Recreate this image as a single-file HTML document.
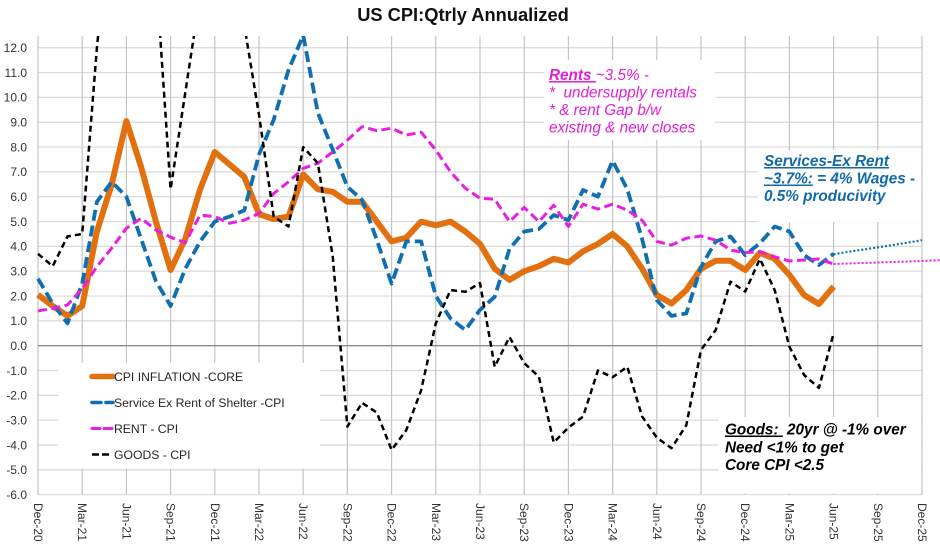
<!DOCTYPE html>
<html lang="en">
<head>
<meta charset="utf-8">
<title>US CPI: Qtrly Annualized</title>
<style>
html,body{margin:0;padding:0;background:#fff;width:940px;height:551px;overflow:hidden}
svg{display:block;font-family:"Liberation Sans",sans-serif}
</style>
</head>
<body>
<svg id="chart" xmlns="http://www.w3.org/2000/svg" width="940" height="551" viewBox="0 0 940 551">
  <text x="463" y="21" text-anchor="middle" font-size="18.3" font-weight="bold" fill="#111">US CPI:Qtrly Annualized</text>
  <defs><clipPath id="plot-clip"><rect x="0" y="36" width="940" height="470"/></clipPath></defs>
  <g id="grid"></g>
  <g id="boxes">
    <rect x="544" y="60" width="171" height="80" fill="#fff"/>
    <rect x="758" y="150" width="163" height="72" fill="#fff"/>
    <rect x="719" y="417" width="202" height="76.5" fill="#fff"/>
    <rect x="58" y="363" width="262" height="105.5" fill="#fff"/>
  </g>
  <g id="axes"></g>
  <g id="series" clip-path="url(#plot-clip)"></g>
  <g id="projections"></g>

  <g font-size="12.2" fill="#262626">
    <line x1="92" y1="376.5" x2="113" y2="376.5" stroke="#E2700F" stroke-width="5.5" stroke-linecap="round"/>
    <text x="114" y="381">CPI INFLATION -CORE</text>
    <line x1="92" y1="402.5" x2="113" y2="402.5" stroke="#0F6FB0" stroke-width="3.6" stroke-dasharray="9 5" stroke-linecap="round"/>
    <text x="114" y="407">Service Ex Rent of Shelter -CPI</text>
    <line x1="92" y1="428.5" x2="113" y2="428.5" stroke="#E81FE0" stroke-width="3" stroke-dasharray="8 4" stroke-linecap="round"/>
    <text x="114" y="433">RENT - CPI</text>
    <line x1="92" y1="454.5" x2="110" y2="454.5" stroke="#000" stroke-width="2.5" stroke-dasharray="7 3"/>
    <text x="114" y="459">GOODS - CPI</text>
  </g>

  <g font-size="15.3" font-style="italic" fill="#E01FD8">
    <text x="549" y="80"><tspan font-weight="bold" text-decoration="underline">Rents </tspan>~3.5% -</text>
    <text x="549" y="97.7">*&#160; undersupply rentals</text>
    <text x="549" y="115">* &amp; rent Gap b/w</text>
    <text x="549" y="132.7">existing &amp; new closes</text>
  </g>
  <g font-size="15.3" font-style="italic" font-weight="bold" fill="#1269A8">
    <text x="764" y="166" text-decoration="underline">Services-Ex Rent</text>
    <text x="764" y="183.5"><tspan text-decoration="underline">~3.7%:</tspan> = 4% Wages -</text>
    <text x="764" y="201">0.5% producivity</text>
  </g>
  <g font-size="15.3" font-style="italic" font-weight="bold" fill="#000">
    <text x="725" y="434.5"><tspan text-decoration="underline">Goods:&#160;</tspan> 20yr @ -1% over</text>
    <text x="725" y="452.5">Need &lt;1% to get</text>
    <text x="725" y="470">Core CPI &lt;2.5</text>
  </g>
</svg>
<script>
const quarterLabels = ["Dec-20","Mar-21","Jun-21","Sep-21","Dec-21","Mar-22","Jun-22","Sep-22","Dec-22","Mar-23","Jun-23","Sep-23","Dec-23","Mar-24","Jun-24","Sep-24","Dec-24","Mar-25","Jun-25","Sep-25","Dec-25"];
const yTickValues = [12,11,10,9,8,7,6,5,4,3,2,1,0,-1,-2,-3,-4,-5,-6];
const coreCpi = [2.05,1.6,1.2,1.6,4.6,6.5,9.05,7.2,5.0,3.05,4.3,6.3,7.8,7.3,6.8,5.3,5.1,5.2,6.9,6.3,6.2,5.8,5.8,5.0,4.2,4.35,5.0,4.85,5.0,4.6,4.1,3.1,2.65,3.0,3.2,3.5,3.35,3.8,4.1,4.5,4.0,3.1,2.04,1.7,2.24,3.1,3.42,3.42,3.05,3.74,3.5,2.85,2.04,1.68,2.38];
const serviceExRent = [2.7,1.7,0.9,2.5,5.8,6.6,6.0,4.3,2.6,1.6,3.1,4.2,5.0,5.2,5.45,7.7,9.1,11.1,12.5,9.37,7.9,6.4,5.87,4.25,2.5,4.2,4.2,2.0,1.1,0.63,1.44,1.97,3.9,4.6,4.7,5.26,5.06,6.27,6.0,7.45,6.3,4.3,1.84,1.2,1.3,3.17,4.2,4.4,3.65,4.13,4.8,4.6,3.65,3.25,3.7];
const rentCpi = [1.4,1.5,1.64,2.3,3.18,3.93,4.73,5.13,4.66,4.37,4.15,5.26,5.2,4.93,5.06,5.33,6.13,6.6,7.14,7.35,7.8,8.28,8.82,8.66,8.76,8.48,8.6,7.88,7.0,6.34,5.94,5.9,5.0,5.57,5.0,5.66,4.8,5.7,5.5,5.7,5.46,5.05,4.2,4.05,4.33,4.42,4.25,3.85,3.75,3.79,3.58,3.41,3.45,3.49,3.29];
const goodsCpi = [3.7,3.2,4.4,4.5,12.0,18,22,20,15,6.3,10.2,14.1,16,18,12.9,9.3,5.2,4.8,8.0,7.35,3.6,-3.26,-2.3,-2.7,-4.2,-3.4,-1.8,0.9,2.24,2.17,2.52,-0.85,0.35,-0.7,-1.25,-3.9,-3.3,-2.85,-1.0,-1.27,-0.85,-2.85,-3.7,-4.13,-3.2,-0.17,0.63,2.58,2.18,3.5,2.24,-0.04,-1.18,-1.7,0.5];
const serviceProjection = [3.68,3.78,3.87,3.96,4.05,4.15,4.25];
const rentProjection = [3.29,3.31,3.33,3.35,3.37,3.39,3.41,3.44,3.46];

const NS = "http://www.w3.org/2000/svg";
const xScale = m => 38 + (922 - 38) / 60 * m;
const yScale = v => 345.7 - 24.83 * v;
const projectionStart = 54;
const monthsPerQuarter = 3;

function make(tag, attrs, parent) {
  const el = document.createElementNS(NS, tag);
  for (const k in attrs) el.setAttribute(k, attrs[k]);
  parent.appendChild(el);
  return el;
}
function pointsFor(values, start) {
  return values.map((v, i) => xScale(start + i).toFixed(1) + "," + yScale(v).toFixed(1)).join(" ");
}

const grid = document.getElementById("grid");
const axes = document.getElementById("axes");
const plotTop = 36;
const plotBottom = yScale(-6);

yTickValues.forEach(v => {
  if (v === 0) return;
  const line = make("line", {x1: xScale(0), x2: xScale(60), y1: yScale(v), y2: yScale(v), stroke: "#d9d9d9", "stroke-width": 1.2}, grid);
  
  
});
quarterLabels.forEach((q, i) => {
  const x = xScale(i * monthsPerQuarter);
  const line = make("line", {x1: x, x2: x, y1: plotTop, y2: plotBottom, stroke: "#c4c4c4", "stroke-width": 1.2}, grid);
  
  
  const lab = make("text", {transform: "translate(" + (x - 4) + ",503) rotate(90)", "font-size": 12, fill: "#333"}, axes);
  lab.textContent = q;
  
  
});
yTickValues.forEach(v => {
  const lab = make("text", {x: 27, y: yScale(v) + 4.3, "text-anchor": "end", "font-size": 12, fill: "#333"}, axes);
  lab.textContent = v.toFixed(1);
  
  
});
const zeroLine = make("line", {x1: xScale(0), x2: xScale(60), y1: yScale(0), y2: yScale(0), stroke: "#8c8c8c", "stroke-width": 1.3}, axes);



const series = document.getElementById("series");
const coreLine = make("polyline", {points: pointsFor(coreCpi, 0), fill: "none", stroke: "#E2700F", "stroke-width": 6, "stroke-linejoin": "round"}, series);


const serviceLine = make("polyline", {points: pointsFor(serviceExRent, 0), fill: "none", stroke: "#0F6FB0", "stroke-width": 3.8, "stroke-dasharray": "11 5", "stroke-linejoin": "round"}, series);


const rentLine = make("polyline", {points: pointsFor(rentCpi, 0), fill: "none", stroke: "#E81FE0", "stroke-width": 3, "stroke-dasharray": "9 4.5", "stroke-linejoin": "round"}, series);


const goodsLine = make("polyline", {points: pointsFor(goodsCpi, 0), fill: "none", stroke: "#000", "stroke-width": 2.5, "stroke-dasharray": "6 4", "stroke-linejoin": "round"}, series);



const projections = document.getElementById("projections");
const serviceProj = make("polyline", {points: pointsFor(serviceProjection, projectionStart), fill: "none", stroke: "#0F6FB0", "stroke-width": 2.2, "stroke-dasharray": "2 2"}, projections);


const rentProj = make("polyline", {points: pointsFor(rentProjection, projectionStart), fill: "none", stroke: "#E81FE0", "stroke-width": 2, "stroke-dasharray": "2 2"}, projections);


</script>
</body>
</html>
